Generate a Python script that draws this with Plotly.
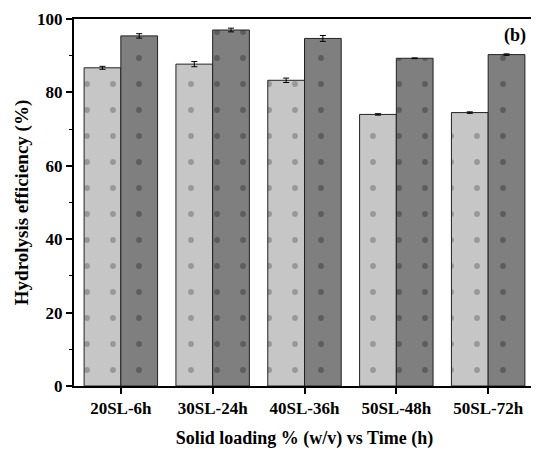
import plotly.graph_objects as go

categories = ['20SL-6h', '30SL-24h', '40SL-36h', '50SL-48h', '50SL-72h']
series_a = [86.7, 87.7, 83.3, 74.0, 74.5]
series_a_err = [0.4, 0.7, 0.6, 0.2, 0.2]
series_b = [95.4, 97.0, 94.7, 89.3, 90.3]
series_b_err = [0.6, 0.5, 0.8, 0.1, 0.2]

font_family = "Liberation Serif, Times New Roman, serif"
x_range = [-0.51, len(categories) - 0.49]

fig = go.Figure()
fig.add_trace(go.Bar(
    x=categories, y=series_a,
    error_y=dict(type='data', array=series_a_err, color='black', thickness=1, width=3),
    marker=dict(color='#c6c6c6', line=dict(color='#222222', width=1),
                pattern=dict(shape='.', fgcolor='#6a6a6a', size=26, solidity=0.04)),
    showlegend=False
))
fig.add_trace(go.Bar(
    x=categories, y=series_b,
    error_y=dict(type='data', array=series_b_err, color='black', thickness=1, width=3),
    marker=dict(color='#7f7f7f', line=dict(color='#222222', width=1),
                pattern=dict(shape='.', fgcolor='#3c3c3c', size=26, solidity=0.04)),
    showlegend=False
))

fig.add_annotation(
    text="<b>(b)</b>", x=0.985, y=0.955, xref='paper', yref='paper',
    xanchor='right', yanchor='middle', showarrow=False,
    font=dict(family=font_family, size=18, color='black')
)

fig.update_layout(
    width=531, height=452,
    margin=dict(l=66, r=2, t=10, b=74),
    barmode='group', bargap=0.2, bargroupgap=0,
    plot_bgcolor='white', paper_bgcolor='white',
    font=dict(family=font_family, color='black'),
    xaxis=dict(
        title=dict(text="<b>Solid loading % (w/v) vs Time (h)</b>", font=dict(size=18), standoff=14),
        tickfont=dict(size=17), tickprefix='<b>', ticksuffix='</b>',
        showline=True, linecolor='black', linewidth=2, mirror=True,
        ticks='outside', ticklen=6, tickwidth=1.5, tickcolor='black',
        range=x_range
    ),
    # minor ticks between the category groups
    xaxis2=dict(
        overlaying='x', anchor='y', side='bottom', range=x_range,
        tickvals=[i + 0.5 for i in range(len(categories) - 1)],
        ticks='outside', ticklen=3, tickwidth=1, tickcolor='black',
        showticklabels=False, showgrid=False, zeroline=False, showline=False
    ),
    yaxis=dict(
        title=dict(text="<b>Hydrolysis efficiency (%)</b>", font=dict(size=19), standoff=3),
        tickfont=dict(size=17), tickprefix='<b>', ticksuffix='</b>',
        range=[0, 100], dtick=20,
        showline=True, linecolor='black', linewidth=2, mirror=True,
        ticks='outside', ticklen=6, tickwidth=1.5, tickcolor='black',
        minor=dict(ticks='outside', dtick=10, ticklen=3, tickwidth=1, tickcolor='black'),
        showgrid=False, zeroline=False
    )
)

fig.write_html("out.html")
